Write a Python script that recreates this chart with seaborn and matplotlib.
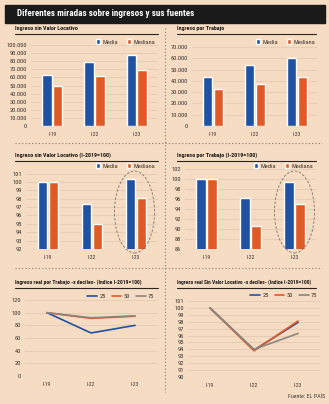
import os
import matplotlib
matplotlib.use('Agg')
import matplotlib.pyplot as plt
import seaborn as sns
import pandas as pd
from matplotlib import font_manager as fm
from matplotlib.font_manager import FontProperties
from matplotlib.patches import Ellipse, Rectangle
from matplotlib.lines import Line2D
from matplotlib.ticker import FuncFormatter

# ---------------- data ----------------
periods = ['I-19', 'I-22', 'I-23']
slv_media = [63000, 79000, 88000]
slv_mediana = [50000, 61500, 69000]
trab_media = [43500, 54000, 60500]
trab_mediana = [32500, 37500, 43000]
idx_slv_media = [100, 97.4, 100.4]
idx_slv_mediana = [100, 95.0, 98.1]
idx_trab_media = [100, 96.2, 99.4]
idx_trab_mediana = [100, 90.6, 95.0]
deciles = ['25', '50', '75']
dec_trab_25 = [100, 68, 80]
dec_trab_50 = [100, 91, 94.5]
dec_trab_75 = [100, 92, 95]
dec_slv_25 = [100, 93.9, 97.9]
dec_slv_50 = [100, 93.8, 98.1]
dec_slv_75 = [100, 94.0, 96.3]

# ---------------- style ----------------
BG = '#f6dcc2'
GRID = '#e6cdb6'
BLUE = '#1f52a3'
ORANGE = '#e05a28'
GRAY = '#8c8580'
TXT = '#3a3330'

sns.set_theme(style='white')
plt.rcParams['font.family'] = ['DejaVu Sans']


def find_font(options):
    files = [f.fname for f in fm.fontManager.ttflist]
    for keys in options:
        for fn in files:
            base = os.path.basename(fn).lower()
            if all(k.lower() in base for k in keys):
                return fn
    return None


BOLD_FILE = find_font([['liberationsansnarrow-bold.'], ['robotocondensed-bold.'],
                       ['opensans-condbold'], ['opensans_condensed-bold.'],
                       ['dejavusanscondensed-bold.']])
REG_FILE = find_font([['liberationsansnarrow-regular'], ['robotocondensed-regular'],
                      ['opensans-condlight'], ['opensans_condensed-regular'],
                      ['dejavusanscondensed.']])


def fp(size, bold=False):
    fn = BOLD_FILE if bold else REG_FILE
    if fn:
        return FontProperties(fname=fn, size=size)
    return FontProperties(family='DejaVu Sans', size=size * 0.85,
                          weight='bold' if bold else 'normal')


W, H = 329, 404
fig = plt.figure(figsize=(W / 100, H / 100), dpi=100)
fig.patch.set_facecolor(BG)


def add_ax(x0, y0, x1, y1):
    ax = fig.add_axes([x0 / W, 1 - y1 / H, (x1 - x0) / W, (y1 - y0) / H])
    ax.set_facecolor(BG)
    return ax


def fx(x):
    return x / W


def fy(y):
    return 1 - y / H


TICK_FP = fp(4.6)
XT_FP = fp(4.0)
LEG_FP = fp(4.6)


def style_ax(ax, ylim, yticks, fmt=None):
    ax.set_ylim(*ylim)
    ax.set_xlim(-0.5, 2.5)
    ax.set_yticks(yticks)
    if fmt is not None:
        ax.yaxis.set_major_formatter(FuncFormatter(fmt))
    for s in ax.spines.values():
        s.set_visible(False)
    ax.grid(axis='y', color=GRID, lw=0.8)
    ax.grid(axis='x', visible=False)
    ax.set_axisbelow(True)
    ax.tick_params(axis='y', length=0, colors=TXT, pad=3)
    ax.tick_params(axis='x', length=0, colors=TXT, pad=4)
    for lab in ax.get_yticklabels():
        lab.set_fontproperties(TICK_FP)
    for lab in ax.get_xticklabels():
        lab.set_fontproperties(XT_FP)
    ax.set_xlabel('')
    ax.set_ylabel('')


def thousands(v, _):
    return '0' if v == 0 else f'{int(v):,}'.replace(',', '.')


def bar_panel(box, media, mediana, ylim, yticks, legy, fmt=None):
    ax = add_ax(*box)
    df = pd.DataFrame({'Periodo': periods * 2,
                       'Serie': ['Media'] * 3 + ['Mediana'] * 3,
                       'Valor': media + mediana})
    sns.barplot(data=df, x='Periodo', y='Valor', hue='Serie',
                palette=[BLUE, ORANGE], width=0.5, gap=0.1,
                saturation=1, ax=ax, err_kws={'linewidth': 0})
    style_ax(ax, ylim, yticks, fmt)
    ax.legend(loc='center right', bbox_to_anchor=(1.0, legy), frameon=False,
              prop=LEG_FP, ncol=2, handlelength=0.7, handleheight=0.7,
              handletextpad=0.4, columnspacing=1.3, borderaxespad=0,
              labelcolor=TXT)
    return ax


def line_panel(box, s25, s50, s75, ylim, yticks, legy):
    ax = add_ax(*box)
    df = pd.DataFrame({'Periodo': periods * 3,
                       'Decil': [d for d in deciles for _ in range(3)],
                       'Valor': s25 + s50 + s75})
    sns.lineplot(data=df, x='Periodo', y='Valor', hue='Decil',
                 palette=[BLUE, ORANGE, GRAY], lw=1.2, ax=ax, sort=False)
    style_ax(ax, ylim, yticks)
    ax.legend(loc='center right', bbox_to_anchor=(1.0, legy), frameon=False,
              prop=LEG_FP, ncol=3, handlelength=1.5,
              handletextpad=0.4, columnspacing=0.9, borderaxespad=0,
              labelcolor=TXT)
    return ax


# ---------------- header ----------------
fig.patches.append(Rectangle((fx(5), fy(23)), fx(320), 18 / H,
                             transform=fig.transFigure, color='#1b1a1a', zorder=0))
fig.text(fx(17), fy(14), 'Diferentes miradas sobre ingresos y sus fuentes',
         color='white', fontproperties=fp(6.6, True), va='center', ha='left')


def panel_title(x, y, x1, text, size=4.3):
    fig.text(fx(x), fy(y), text, fontproperties=fp(size, True), color='#1e1a18',
             va='baseline', ha='left')
    fig.add_artist(Line2D([fx(x), fx(x1)], [fy(y + 3.5), fy(y + 3.5)],
                          transform=fig.transFigure, color='#2a2320', lw=0.8))


panel_title(15, 30, 158, 'Ingreso sin Valor Locativo')
panel_title(177, 30, 316, 'Ingreso por Trabajo')
panel_title(15, 157, 158, 'Ingreso sin Valor Locativo (I-2019=100)')
panel_title(177, 157, 316, 'Ingreso por Trabajo (I-2019=100)')
panel_title(15, 284, 158, 'Ingreso real por Trabajo -x deciles- (Indice I-2019=100)', 4.1)
panel_title(177, 284, 316, 'Ingreso real Sin Valor Locativo -x deciles- (Indice I-2019=100)', 3.9)

# separators
for y in (143, 268):
    fig.add_artist(Line2D([fx(15), fx(322)], [fy(y), fy(y)], transform=fig.transFigure,
                          color='#8a7a6c', lw=0.8, ls=(0, (1, 2))))
fig.add_artist(Line2D([fx(165), fx(165)], [fy(28), fy(392)], transform=fig.transFigure,
                      color='#8a7a6c', lw=0.8, ls=(0, (1, 2))))

# ---------------- panels ----------------
bar_panel((31, 36, 158, 126), slv_media, slv_mediana,
          (0, 90 / 81 * 100000), range(0, 100001, 10000), (126 - 42) / 90, thousands)
bar_panel((192, 36, 318, 126), trab_media, trab_mediana,
          (0, 90 / 79 * 70000), range(0, 70001, 10000), (126 - 42) / 90, thousands)
bar_panel((26, 164, 158, 249), idx_slv_media, idx_slv_mediana,
          (92, 92 + 85 / 8.375), range(92, 102), (249 - 166) / 85)
bar_panel((185, 164, 316, 249), idx_trab_media, idx_trab_mediana,
          (86, 103), range(86, 103, 2), (249 - 166) / 85)
line_panel((25, 290, 157, 376), dec_trab_25, dec_trab_50, dec_trab_75,
           (0, 86 / 0.633), range(0, 121, 20), (376 - 296) / 86)
line_panel((188, 290, 320, 377), dec_slv_25, dec_slv_50, dec_slv_75,
           (90, 90 + 87 / 6.91), range(90, 102), (377 - 295) / 87)

# dashed ellipses highlighting I-23
for cx in (134.5, 294.5):
    fig.patches.append(Ellipse((fx(cx), fy(212)), 40 / W, 82 / H,
                               transform=fig.transFigure, fill=False,
                               edgecolor='#7d7068', lw=0.6, ls=(0, (3, 2)), zorder=10))

fig.text(fx(325), fy(398), 'Fuente: EL PAÍS', fontproperties=fp(4.2), color=TXT,
         ha='right', va='baseline')

fig.savefig('out.png', dpi=100, facecolor=BG)
